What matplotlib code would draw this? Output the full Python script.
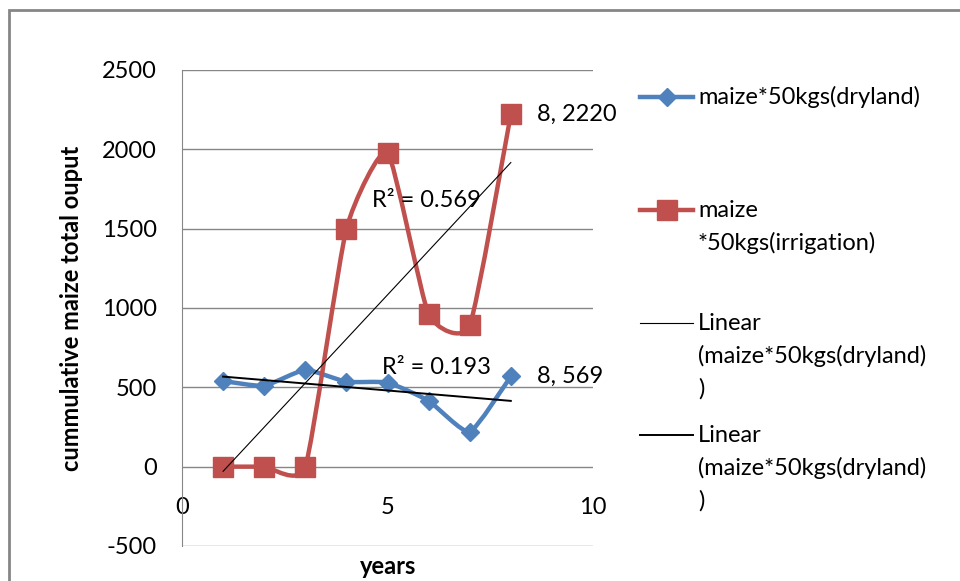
import matplotlib
matplotlib.use("Agg")
import matplotlib.pyplot as plt
import numpy as np
from matplotlib.path import Path
from matplotlib.patches import PathPatch, Rectangle
from matplotlib.lines import Line2D

# Werte
years = [1, 2, 3, 4, 5, 6, 7, 8]
dryland = [540, 510, 610, 535, 530, 415, 220, 569]
irrigation = [0, 0, 0, 1500, 1980, 960, 890, 2220]
y_ticks = [-500, 0, 500, 1000, 1500, 2000, 2500]
x_ticks = [0, 5, 10]
r2_labels = ["R² = 0.569", "R² = 0.193"]

blue = "#4F81BD"
red = "#C0504D"
grey = "#868686"
fs = 17

plt.rcParams['font.family'] = ['Lato', 'DejaVu Sans']
plt.rcParams['axes.unicode_minus'] = False

W, H = 960, 581
fig = plt.figure(figsize=(W / 100, H / 100), dpi=100)


def fx(px):
    return px / W


def fy(py):
    return 1 - py / H


ax = fig.add_axes([fx(182), fy(546), fx(593) - fx(182), fy(70) - fy(546)])


def smooth_path(xs, ys, k=0.085):
    # Bezier-Kurve wie Excel "geglättete Linie"
    pts = np.column_stack([xs, ys]).astype(float)
    n = len(pts)
    verts = [pts[0]]
    codes = [Path.MOVETO]
    for i in range(n - 1):
        p0 = pts[i - 1] if i > 0 else pts[i]
        p1 = pts[i]
        p2 = pts[i + 1]
        p3 = pts[i + 2] if i + 2 < n else pts[i + 1]
        c1 = p1 + (p2 - p0) * k
        c2 = p2 - (p3 - p1) * k
        verts += [c1, c2, p2]
        codes += [Path.CURVE4] * 3
    return Path(verts, codes)


for ys, col in [(dryland, blue), (irrigation, red)]:
    ax.add_patch(PathPatch(smooth_path(years, ys), fill=False, edgecolor=col,
                           lw=3.2, capstyle='round', joinstyle='round', zorder=3))

ax.plot(years, dryland, ls='none', marker='D', ms=9, color=blue, zorder=4)
ax.plot(years, irrigation, ls='none', marker='s', ms=14, color=red, zorder=4)

# lineare Trendlinien
xr = np.array([years[0], years[-1]])
c_irr = np.polyfit(years, irrigation, 1)
c_dry = np.polyfit(years, dryland, 1)
ax.plot(xr, np.polyval(c_irr, xr), color='black', lw=0.8, zorder=5)
ax.plot(xr, np.polyval(c_dry, xr), color='black', lw=1.4, zorder=5)

ax.text(4.62, 1676, r2_labels[0], fontsize=fs, va='center', ha='left', zorder=6)
ax.text(4.86, 625, r2_labels[1], fontsize=fs, va='center', ha='left', zorder=6)

ax.annotate(f"{years[-1]}, {irrigation[-1]}", (years[-1], irrigation[-1]),
            xytext=(19, 0), textcoords='offset points', va='center', ha='left',
            fontsize=fs, annotation_clip=False)
ax.annotate(f"{years[-1]}, {dryland[-1]}", (years[-1], dryland[-1]),
            xytext=(19, 0), textcoords='offset points', va='center', ha='left',
            fontsize=fs, annotation_clip=False)

ax.set_xlim(0, 10)
ax.set_ylim(-500, 2500)
ax.set_yticks(y_ticks)
ax.set_xticks(x_ticks)
ax.tick_params(length=0, labelsize=fs)
ax.tick_params(axis='y', pad=18)
ax.tick_params(axis='x', pad=22)
ax.spines['bottom'].set_position(('data', 0))
ax.spines['bottom'].set_visible(False)
ax.spines['top'].set_visible(False)
ax.spines['right'].set_visible(False)
ax.spines['left'].set_color(grey)
ax.grid(axis='y', color=grey, lw=1)
ax.set_axisbelow(True)

fig.text(fx(72), fy(308), "cummulative maize total ouput", rotation=90,
         ha='center', va='center', fontsize=fs, fontweight='bold')
fig.text(fx(388), fy(567), "years", ha='center', va='center',
         fontsize=fs, fontweight='bold')

# Legende von Hand
entries = [
    (["maize*50kgs(dryland)"], 97, dict(color=blue, lw=3.2), ('D', 9)),
    (["maize", "*50kgs(irrigation)"], 210, dict(color=red, lw=3.2), ('s', 14)),
    (["Linear", "(maize*50kgs(dryland)", ")"], 323, dict(color='black', lw=0.8), None),
    (["Linear", "(maize*50kgs(dryland)", ")"], 435, dict(color='black', lw=1.4), None),
]
for lines, y0, style, mk in entries:
    fig.add_artist(Line2D([fx(640), fx(693)], [fy(y0), fy(y0)], **style))
    if mk:
        fig.add_artist(Line2D([fx(666.5)], [fy(y0)], ls='none', marker=mk[0],
                              ms=mk[1], color=style['color']))
    for j, t in enumerate(lines):
        fig.text(fx(698), fy(y0 + 33 * j), t, ha='left', va='center', fontsize=fs)

# äußerer Rahmen
fig.add_artist(Rectangle((fx(9), fy(H + 20)), fx(W + 20), fy(10) - fy(H + 20),
                         transform=fig.transFigure, fill=False, edgecolor=grey, lw=2))

fig.savefig("out.png", dpi=100)
